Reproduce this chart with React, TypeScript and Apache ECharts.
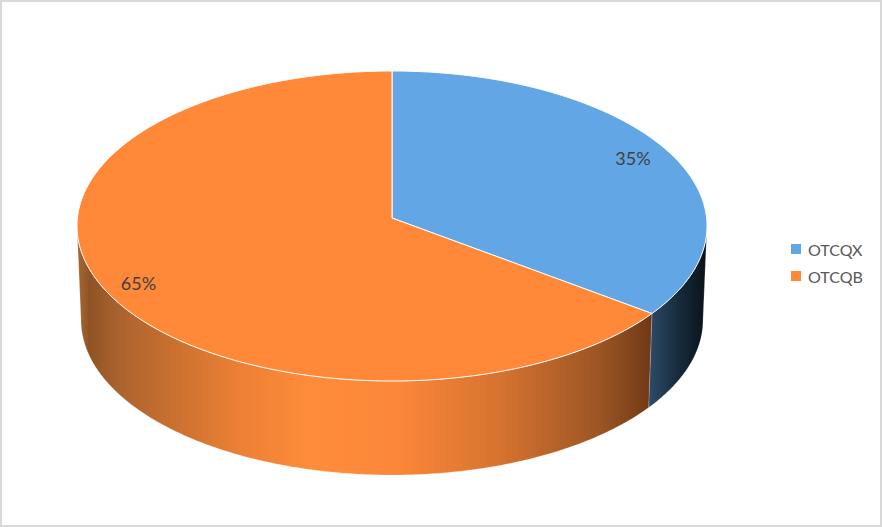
import React, { useEffect, useRef } from "react";
import * as echarts from "echarts";

const categories = ["OTCQX", "OTCQB"];
const shareValues = [34.55, 65.45];
const sliceColors = ["#63a6e5", "#ff8839"];
const labelReach = [
  [0.865, 0.94],
  [0.91, 0.79],
];

const WIDTH = 883;
const HEIGHT = 527;
const apex = { x: 392, y: 218 };
const topRim = { cx: 392, cy: 226, rx: 315, ry: 155 };
const bottomRim = { cx: 392, cy: 320, rx: 311, ry: 155 };

const wallStops = [
  [
    { at: 650, color: "#2c4a68" },
    { at: 680, color: "#16293a" },
    { at: 704, color: "#0b141c" },
  ],
  [
    { at: 81, color: "#a0622f" },
    { at: 90, color: "#8f5426" },
    { at: 120, color: "#ac632e" },
    { at: 180, color: "#cd7230" },
    { at: 240, color: "#ec8034" },
    { at: 310, color: "#ff8c3b" },
    { at: 400, color: "#fb8638" },
    { at: 500, color: "#d67330" },
    { at: 600, color: "#9c5524" },
    { at: 650, color: "#703a16" },
  ],
];

const total = shareValues.reduce((a, b) => a + b, 0);
const rad = (fraction: number) => fraction * Math.PI * 2;

function rimPoint(rim: typeof topRim, t: number): number[] {
  return [rim.cx + rim.rx * Math.sin(t), rim.cy - rim.ry * Math.cos(t)];
}

function arc(rim: typeof topRim, from: number, to: number): number[][] {
  const steps = Math.max(2, Math.ceil(Math.abs(to - from) / 0.01));
  const pts: number[][] = [];
  for (let i = 0; i <= steps; i++) pts.push(rimPoint(rim, from + ((to - from) * i) / steps));
  return pts;
}

function sliceRenderer(index: number) {
  return (_params: any, api: any) => {
    const value = api.value(0) as number;
    const before = shareValues.slice(0, index).reduce((a, b) => a + b, 0);
    const start = rad(before / total);
    const end = rad((before + value) / total);
    const children: any[] = [];

    const wallFrom = Math.max(start, Math.PI / 2);
    const wallTo = Math.min(end, (Math.PI * 3) / 2);
    if (wallTo > wallFrom) {
      const stops = wallStops[index];
      const x0 = stops[0].at;
      const x1 = stops[stops.length - 1].at;
      children.push({
        type: "polygon",
        shape: {
          points: [...arc(topRim, wallFrom, wallTo), ...arc(bottomRim, wallTo, wallFrom)],
        },
        style: {
          fill: {
            type: "linear",
            global: true,
            x: x0,
            y: 0,
            x2: x1,
            y2: 0,
            colorStops: stops.map((s) => ({ offset: (s.at - x0) / (x1 - x0), color: s.color })),
          },
          stroke: "rgba(255,255,255,0.25)",
          lineWidth: 0.75,
        },
      });
    }

    children.push({
      type: "polygon",
      shape: { points: [[apex.x, apex.y], ...arc(topRim, start, end)] },
      style: { fill: sliceColors[index], stroke: "#ffffff", lineWidth: 1 },
    });

    const mid = (start + end) / 2;
    const [fx, fy] = labelReach[index];
    children.push({
      type: "text",
      style: {
        x: topRim.cx + topRim.rx * fx * Math.sin(mid),
        y: topRim.cy - topRim.ry * fy * Math.cos(mid),
        text: `${Math.round((value / total) * 100)}%`,
        fill: "#404040",
        font: '18px Lato, "Open Sans", sans-serif',
        align: "center",
        verticalAlign: "middle",
      },
      z2: 10,
    });
    return { type: "group", children };
  };
}

export default function App() {
  const ref = useRef<HTMLDivElement>(null);
  useEffect(() => {
    document.body.style.margin = "0";
    document.body.style.background = "#ffffff";
    const chart = echarts.init(ref.current!, null, { renderer: "svg" });
    chart.setOption({
      animation: false,
      backgroundColor: "#ffffff",
      legend: {
        orient: "vertical",
        left: 786,
        top: 236,
        itemWidth: 10,
        itemHeight: 10,
        itemGap: 11,
        icon: "rect",
        selectedMode: false,
        data: categories,
        textStyle: { color: "#595959", fontSize: 16, fontFamily: 'Lato, "Open Sans", sans-serif', padding: [0, 0, 0, 2] },
      },
      graphic: [
        {
          type: "rect",
          shape: { x: 1, y: 1, width: 880, height: 525 },
          style: { fill: "none", stroke: "#d9d9d9", lineWidth: 2 },
          silent: true,
          z: 100,
        },
      ],
      series: categories.map((name, i) => ({
        type: "custom",
        name,
        coordinateSystem: "none",
        silent: true,
        itemStyle: { color: sliceColors[i] },
        data: [[shareValues[i]]],
        renderItem: sliceRenderer(i),
      })),
    });
    return () => chart.dispose();
  }, []);
  return <div ref={ref} style={{ width: WIDTH, height: HEIGHT }} />;
}
